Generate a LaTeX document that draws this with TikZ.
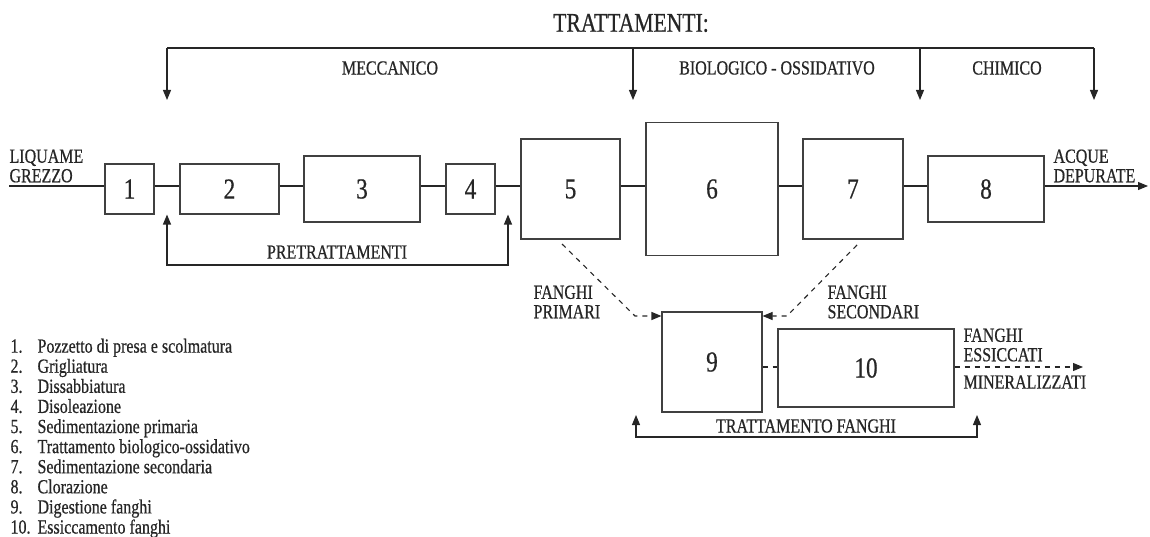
\documentclass[tikz,border=0pt]{standalone}
\usepackage{fontspec}
\setmainfont[FakeStretch=0.8,FakeBold=0.6]{Liberation Serif}
\usetikzlibrary{arrows.meta}

\tikzset{
    blk/.style={draw=black!75, line width=1.1pt, inner sep=0pt,
        font=\fontsize{29}{29}\selectfont},
    lbl/.style={inner sep=0pt, align=left, font=\fontsize{20}{19.5}\selectfont},
    arr/.style={-{Triangle[length=10pt,width=8pt]}},
    arrs/.style={{Triangle[length=10pt,width=8pt]}-{Triangle[length=10pt,width=8pt]}},
    dsh/.style={dash pattern=on 5pt off 5pt}
}

\begin{document}
\begin{tikzpicture}[x=1pt,y=-1pt,line width=1.1pt,color=black!85]
\useasboundingbox (0,0) rectangle (1150,537);

%%% BOXES %%%
\node[blk, minimum width=49, minimum height=50] (b1) at (129.5,189) {1};
\node[blk, minimum width=99, minimum height=50] (b2) at (229.5,189) {2};
\node[blk, minimum width=116, minimum height=66] (b3) at (362,189) {3};
\node[blk, minimum width=49, minimum height=50] (b4) at (470.5,189) {4};
\node[blk, minimum width=99, minimum height=100] (b5) at (570.5,189) {5};
\node[blk, minimum width=132, minimum height=133] (b6) at (712,189) {6};
\node[blk, minimum width=100, minimum height=100] (b7) at (853,189) {7};
\node[blk, minimum width=116, minimum height=66] (b8) at (986,189) {8};
\node[blk, minimum width=100, minimum height=100] (b9) at (712,362) {9};
\node[blk, minimum width=176, minimum height=78] (b10) at (866,368) {10};

%%% MAIN LINE %%%
\coordinate (in) at (9,186);
\coordinate (out) at (1148,186);
\draw (in) -- ([yshift=3]b1.west);
\draw ([yshift=3]b1.east) -- ([yshift=3]b2.west);
\draw ([yshift=3]b2.east) -- ([yshift=3]b3.west);
\draw ([yshift=3]b3.east) -- ([yshift=3]b4.west);
\draw ([yshift=3]b4.east) -- ([yshift=3]b5.west);
\draw ([yshift=3]b5.east) -- ([yshift=3]b6.west);
\draw ([yshift=3]b6.east) -- ([yshift=3]b7.west);
\draw ([yshift=3]b7.east) -- ([yshift=3]b8.west);
\draw[arr] ([yshift=3]b8.east) -- (out);
\node[lbl, anchor=south west] (liq) at (9,183) {LIQUAME\\GREZZO};
\node[lbl, anchor=south west] (acq) at (1053,183) {ACQUE\\DEPURATE};

%%% TRATTAMENTI %%%
\node[inner sep=0pt, font=\fontsize{27}{27}\selectfont] (title) at (631,23) {TRATTAMENTI:};
\coordinate (t1) at (167,48);
\coordinate (t2) at (633,48);
\coordinate (t3) at (920,48);
\coordinate (t4) at (1094,48);
\draw (t1) -- (t4);
\draw[arr] (t1) -- ++(0,52);
\draw[arr] (t2) -- ++(0,52);
\draw[arr] (t3) -- ++(0,52);
\draw[arr] (t4) -- ++(0,52);
\node[lbl] (mecc) at (390,68) {MECCANICO};
\node[lbl] (bio) at (777,68) {BIOLOGICO - OSSIDATIVO};
\node[lbl] (chim) at (1007,68) {CHIMICO};

%%% PRETRATTAMENTI %%%
\coordinate (p1) at (167,265);
\coordinate (p2) at (508,265);
\draw[arrs] (p1 |- b1.south) -- (p1) -- (p2) -- (p2 |- b4.south);
\node[lbl] (pret) at (337,252) {PRETRATTAMENTI};

%%% FANGHI %%%
\coordinate (d1) at (562,244);
\coordinate (d2) at (635,316);
\coordinate (d3) at (857,245);
\coordinate (d4) at (787,316);
\draw[dsh,arr] (d1) -- (d2) -- (b9.west |- d2);
\draw[dsh,arr] (d3) -- (d4) -- (b9.east |- d4);
\node[lbl, anchor=north west] (fprim) at (533,285) {FANGHI\\PRIMARI};
\node[lbl, anchor=north west] (fsec) at (827,285) {FANGHI\\SECONDARI};

\coordinate (fout) at (1083,367);
\draw[dsh] ([yshift=-5]b9.east) -- ([yshift=-5]b9.east -| b10.west);
\draw[dsh,arr] ([yshift=-5]b9.east -| b10.east) -- (fout);
\node[lbl, anchor=north west] (fess) at (963,328) {FANGHI\\ESSICCATI};
\node[lbl, anchor=west] (fmin) at (963,382) {MINERALIZZATI};

%%% TRATTAMENTO FANGHI %%%
\coordinate (f1) at (636,437);
\coordinate (f2) at (977,437);
\draw[arrs] (636,415) -- (f1) -- (f2) -- (977,415);
\node[lbl] (tratf) at (806,426) {TRATTAMENTO FANGHI};

%%% LEGEND %%%
\node[inner sep=0pt, anchor=north west, font=\fontsize{20}{20.1}\selectfont] (legend) at (10,338) {%
\begin{tabular}{@{}p{27pt}@{}l@{}}
1. & Pozzetto di presa e scolmatura\\
2. & Grigliatura\\
3. & Dissabbiatura\\
4. & Disoleazione\\
5. & Sedimentazione primaria\\
6. & Trattamento biologico-ossidativo\\
7. & Sedimentazione secondaria\\
8. & Clorazione\\
9. & Digestione fanghi\\
10. & Essiccamento fanghi
\end{tabular}};
\end{tikzpicture}
\end{document}
